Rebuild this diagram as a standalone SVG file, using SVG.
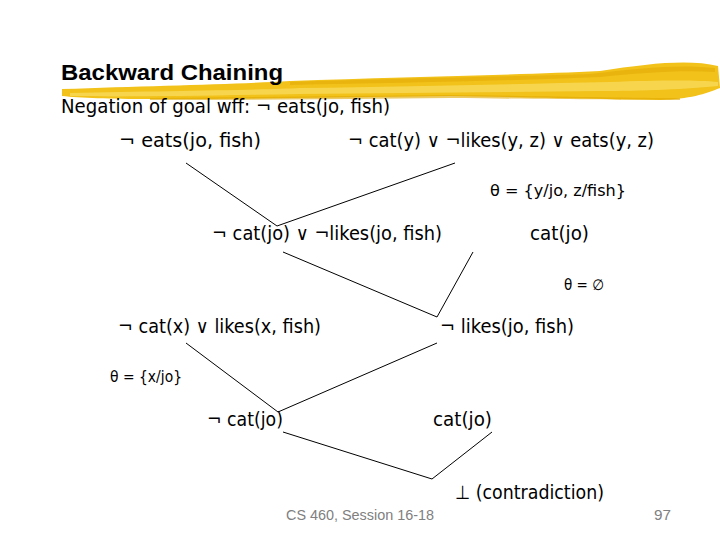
<svg xmlns="http://www.w3.org/2000/svg" width="720" height="540" viewBox="0 0 720 540">
  <style>
    .t { font-family: "DejaVu Sans", Tahoma, Verdana, sans-serif; font-size: 19px; fill: #000; }
    .th { font-family: "DejaVu Sans", Tahoma, Verdana, sans-serif; font-size: 15px; fill: #000; }
    .title { font-family: "Liberation Sans", Arial, sans-serif; font-size: 22px; font-weight: bold; fill: #000; }
    .foot { font-family: "Liberation Sans", Arial, sans-serif; font-size: 14px; fill: #808080; }
    .c { stroke: #000; stroke-width: 1; fill: none; }
  </style>
  <rect width="720" height="540" fill="#fff"/>

  <g id="brush">
    <path d="M62,89 C150,86 240,84 290,81 C400,77 520,75 600,71 C650,63 690,59 718,66 L720,88 C705,94 690,99 660,100 C600,99 520,97 450,96 C350,97 250,99 150,99 C110,99 80,98 62,96 Z" fill="#F2C21A"/>
    <path d="M70,93 C160,91 260,90 300,88 C420,86 520,84 610,82 C660,80 700,80 718,82 L718,86 C690,89 640,91 600,91 C500,92 400,93 300,94 C200,96 120,97 70,96 Z" fill="#F8DA5A" opacity="0.8"/>
    <path d="M290,82 C400,78 500,77 590,74 C640,68 680,64 715,68 L715,72 C680,70 640,73 600,77 C500,81 400,83 290,85 Z" fill="#E4AE08" opacity="0.7"/>
    <path d="M150,98 C250,97 350,96 450,95 C550,96 620,98 680,98 L680,100 C620,100 550,99 450,98 C350,99 250,100 150,100 Z" fill="#E0A800" opacity="0.6"/>
  </g>

  <g id="header">
    <text class="title" x="61" y="80" textLength="222" lengthAdjust="spacingAndGlyphs">Backward Chaining</text>
    <text class="t" x="61" y="113" textLength="329" lengthAdjust="spacingAndGlyphs">Negation of goal wff:  ¬ eats(jo, fish)</text>
  </g>

  <g id="connectors">
    <line class="c" x1="186" y1="163" x2="277" y2="226"/>
    <line class="c" x1="455" y1="163" x2="277" y2="226"/>
    <line class="c" x1="283" y1="252" x2="437" y2="317"/>
    <line class="c" x1="473" y1="252" x2="437" y2="317"/>
    <line class="c" x1="186" y1="343" x2="278" y2="412"/>
    <line class="c" x1="437" y1="343" x2="278" y2="412"/>
    <line class="c" x1="283" y1="432" x2="432" y2="479"/>
    <line class="c" x1="492" y1="432" x2="432" y2="479"/>
  </g>

  <g id="n-goal"><text class="t" x="119" y="147" textLength="142" lengthAdjust="spacingAndGlyphs">¬ eats(jo, fish)</text></g>
  <g id="n-rule"><text class="t" x="348" y="147" textLength="306" lengthAdjust="spacingAndGlyphs">¬ cat(y) ∨ ¬likes(y, z) ∨ eats(y, z)</text></g>
  <g id="theta1"><text class="th" x="490" y="196" textLength="136" lengthAdjust="spacingAndGlyphs">θ = {y/jo, z/fish}</text></g>
  <g id="n-res1"><text class="t" x="212" y="240" textLength="230" lengthAdjust="spacingAndGlyphs">¬ cat(jo) ∨ ¬likes(jo, fish)</text></g>
  <g id="n-cat1"><text class="t" x="530" y="240" textLength="59" lengthAdjust="spacingAndGlyphs">cat(jo)</text></g>
  <g id="theta2"><text class="th" x="564" y="290" textLength="40" lengthAdjust="spacingAndGlyphs">θ = ∅</text></g>
  <g id="n-rule2"><text class="t" x="118" y="333" textLength="203" lengthAdjust="spacingAndGlyphs">¬ cat(x) ∨ likes(x, fish)</text></g>
  <g id="n-res2"><text class="t" x="440" y="333" textLength="134" lengthAdjust="spacingAndGlyphs">¬ likes(jo, fish)</text></g>
  <g id="theta3"><text class="th" x="110" y="382" textLength="72" lengthAdjust="spacingAndGlyphs">θ = {x/jo}</text></g>
  <g id="n-res3"><text class="t" x="207" y="426" textLength="76" lengthAdjust="spacingAndGlyphs">¬ cat(jo)</text></g>
  <g id="n-cat2"><text class="t" x="433" y="426" textLength="59" lengthAdjust="spacingAndGlyphs">cat(jo)</text></g>
  <g id="n-contra"><text class="t" x="455" y="499" textLength="149" lengthAdjust="spacingAndGlyphs">⊥ (contradiction)</text></g>

  <g id="footer">
    <text class="foot" x="286" y="520" textLength="148" lengthAdjust="spacingAndGlyphs">CS 460,  Session 16-18</text>
    <text class="foot" x="654" y="520" textLength="17" lengthAdjust="spacingAndGlyphs">97</text>
  </g>
</svg>
